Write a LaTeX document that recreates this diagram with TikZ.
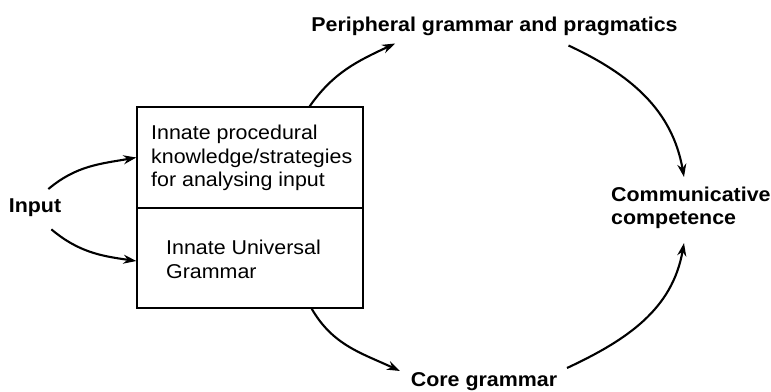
\documentclass[tikz,border=0pt]{standalone}
\usepackage{fontspec}
\setmainfont[FakeStretch=1.07]{Liberation Sans}
\usetikzlibrary{arrows.meta}
\begin{document}
\begin{tikzpicture}[x=1pt,y=1pt,
  conn/.style={line width=2.1pt,-{Stealth[length=13pt,width=9pt]}},
  cell/.style={draw,line width=1.3pt,minimum width=226pt,inner sep=0pt},
  reg/.style={inner sep=0pt,align=left,font=\fontsize{20}{23.5}\selectfont},
  bld/.style={inner sep=0pt,align=left,font=\bfseries\fontsize{20}{23}\selectfont}]
\useasboundingbox (0,0) rectangle (771,391);
\node[cell,minimum height=101pt] (upper) at (250,233.5) {};
\node[cell,minimum height=100pt] (lower) at (250,133) {};
\node[reg,anchor=north west] (uptext) at (151,266) {Innate procedural\\knowledge/strategies\\for analysing input};
\node[reg,anchor=north west] (lotext) at (166,151) {Innate Universal\\Grammar};
\node[bld,anchor=base] (input) at (35,178) {Input};
\node[bld,anchor=base] (periph) at (494.5,359.5) {Peripheral grammar and pragmatics};
\node[bld,anchor=base] (core) at (484,5) {Core grammar};
\node[bld,anchor=north west] (comm) at (611,204) {Communicative\\competence};
\draw[conn] ([shift={(-13pt,10pt)}]input.north east) to[out=40,in=190] (upper.west);
\draw[conn] ([shift={(-10pt,-12pt)}]input.south east) to[out=-40,in=172] ([yshift=-3pt]lower.west);
\draw[conn] ([xshift=-54pt]upper.north east) to[out=55,in=205] ([shift={(84pt,-12pt)}]periph.base west);
\draw[conn] ([shift={(74pt,-14pt)}]periph.base) to[out=-25,in=100] ([shift={(73pt,10pt)}]comm.north west);
\draw[conn] ([xshift=-52pt]lower.south east) to[out=-60,in=155] ([shift={(-84pt,15pt)}]core.base);
\draw[conn] ([shift={(83pt,18pt)}]core.base) to[out=25,in=-100] ([shift={(73pt,-14pt)}]comm.south west);
\end{tikzpicture}
\end{document}
